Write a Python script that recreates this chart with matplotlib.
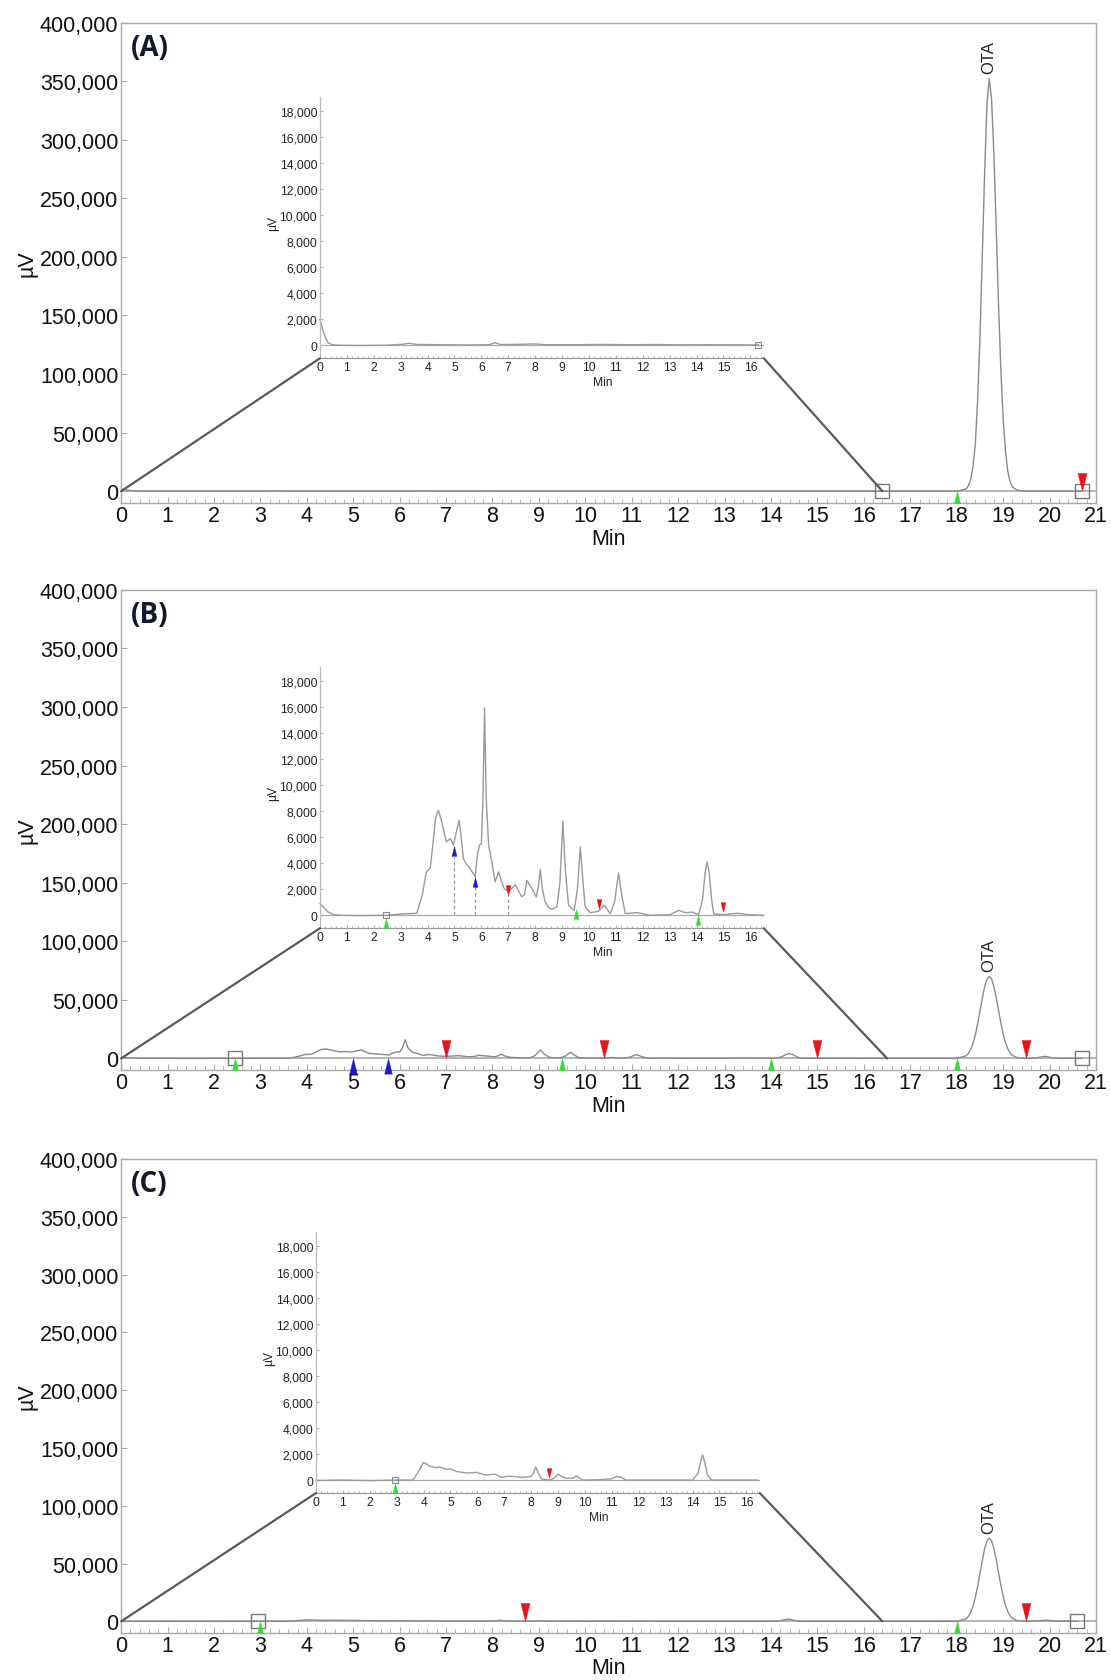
import matplotlib
matplotlib.use('Agg')
import matplotlib.pyplot as plt
from matplotlib.path import Path
from matplotlib.patches import ConnectionPatch
from matplotlib.transforms import offset_copy, blended_transform_factory
from matplotlib.ticker import FuncFormatter, MultipleLocator

plt.rcParams['font.family'] = ['Liberation Sans', 'DejaVu Sans']

# ---------------- data ----------------
panel_labels = ['(A)', '(B)', '(C)']
main_xticks = list(range(0, 22))
main_yticks = [0, 50000, 100000, 150000, 200000, 250000, 300000, 350000, 400000]
inset_xticks = list(range(0, 17))
inset_yticks = [0, 2000, 4000, 6000, 8000, 10000, 12000, 14000, 16000, 18000]

# early part of each chromatogram (0 - 16.5 min), shown in the insets
a_t = [0, 0.05, 0.1, 0.2, 0.3, 0.45, 0.7, 1.5, 2.5, 3.1, 3.3, 3.6, 4.5, 5.5,
       6.3, 6.5, 6.7, 7.2, 8.0, 8.4, 9.5, 10.5, 11.5, 12.5, 13.5, 14.5, 15.5, 16.3]
a_uv = [2000, 1600, 1200, 600, 200, 40, 0, -20, 0, 80, 150, 60, 40, 20,
        40, 200, 60, 60, 100, 40, 40, 60, 40, 50, 30, 40, 30, 20]

b_t = [0, 0.15, 0.3, 0.5, 0.7, 1.5, 2.5, 3.0, 3.6, 3.8, 3.95, 4.1, 4.2, 4.3, 4.4,
       4.5, 4.7, 4.85, 4.96, 5.08, 5.17, 5.25, 5.33, 5.45, 5.58, 5.77, 5.85, 5.93,
       6.0, 6.06, 6.12, 6.18, 6.27, 6.39, 6.51, 6.64, 6.75, 6.85, 7.0, 7.15, 7.26,
       7.4, 7.5, 7.6, 7.7, 7.8, 7.88, 8.04, 8.12, 8.19, 8.27, 8.37, 8.5, 8.62, 8.81,
       8.92, 9.03, 9.12, 9.24, 9.45, 9.57, 9.68, 9.78, 9.86, 10.05, 10.36, 10.57,
       10.79, 10.95, 11.1, 11.22, 11.35, 11.79, 12.28, 13.0, 13.34, 13.5, 13.65,
       13.83, 14.08, 14.22, 14.32, 14.39, 14.47, 14.56, 14.64, 15.0, 15.5, 16.0, 16.5]
b_uv = [900, 600, 250, 50, 0, -30, 0, 100, 150, 1500, 3300, 3640, 5500, 7500, 8080,
        7400, 5640, 5900, 5380, 6500, 7300, 6000, 4360, 3900, 3590, 2950, 4600, 5400,
        5500, 9000, 15950, 9000, 5380, 4100, 2560, 3330, 2600, 2050, 1800, 2100, 2360,
        1800, 1410, 1600, 2690, 2300, 2050, 1410, 2200, 3540, 2000, 1030, 600, 460, 640,
        2500, 7230, 3500, 770, 380, 2000, 5260, 2500, 640, 200, 300, 770,
        130, 1000, 3260, 1500, 130, 200, 0, 30, 380, 250, 200,
        250, 50, 1200, 3300, 4100, 3300, 1200, 100, 50, 150, 40, 0]

c_t = [0, 1, 2, 3, 3.6, 3.8, 3.99, 4.1, 4.24, 4.48, 4.6, 4.85, 5.0, 5.23, 5.6, 5.97,
       6.2, 6.34, 6.5, 6.65, 6.9, 7.1, 7.33, 7.64, 8.01, 8.1, 8.17, 8.25, 8.38, 8.69,
       8.85, 9.0, 9.15, 9.31, 9.55, 9.68, 9.8, 9.93, 10.55, 11.0, 11.17, 11.35, 11.54,
       12.4, 14.0, 14.2, 14.3, 14.37, 14.45, 14.55, 14.7, 15.5, 16.4]
c_uv = [-30, 0, -40, 0, 0, 600, 1350, 1250, 1050, 970, 1000, 840, 850, 660, 540, 590,
        450, 380, 420, 460, 200, 280, 280, 200, 280, 600, 1020, 600, 80, 0,
        150, 460, 250, 130, 150, 330, 150, 0, 30, 100, 280, 200, 0,
        0, 0, 500, 1400, 1940, 1400, 400, 0, 0, 0]

# OTA peak region (µV)
ota_t = [17.0, 18.0, 18.2, 18.25, 18.3, 18.35, 18.4, 18.45, 18.5, 18.55, 18.6, 18.65,
         18.7, 18.75, 18.8, 18.85, 18.9, 18.95, 19.0, 19.05, 19.1, 19.15, 19.2,
         19.3, 19.4, 19.5]
ota_a = [0, 0, 2000, 4500, 10000, 21000, 40000, 78000, 130000, 200000, 270000, 330000,
         352000, 335000, 288000, 225000, 160000, 104000, 62000, 34000, 17000, 8000, 3500,
         1000, 300, 0]
ota_b = [0, 0, 2200, 4200, 7600, 12800, 20000, 29400, 40200, 51000, 61000, 67600,
         70000, 67800, 61500, 52000, 41000, 30500, 21000, 13500, 8200, 4600, 2500,
         700, 150, 0]
ota_c = [0, 0, 2300, 4300, 7800, 13200, 20600, 30200, 41300, 52500, 62700, 69500,
         72000, 69700, 63200, 53500, 42200, 31400, 21600, 13900, 8400, 4700, 2600,
         700, 150, 0]

tail_a_t = [19.6, 20.0, 20.7]
tail_a_uv = [0, 0, 0]
tail_b_t = [19.6, 19.75, 19.9, 20.05, 20.2, 20.7]
tail_b_uv = [0, 700, 1800, 700, 0, 0]
tail_c_t = [19.6, 19.8, 19.95, 20.1, 20.6]
tail_c_uv = [0, 600, 1000, 400, 0]

ota_label = 'OTA'
ota_rt = 18.7
ota_heights = [352000, 70000, 72000]

# peak-processing marks on the main chromatograms (min)
main_red = [[20.7], [7.0, 10.4, 15.0, 19.5], [8.7, 19.5]]
main_green = [[18.0], [2.45, 9.5, 14.0, 18.0], [3.0, 18.0]]
main_blue = [[], [5.0, 5.75], []]
main_square = [[16.4, 20.7], [2.45, 20.7], [2.95, 20.6]]
zoom_end = [16.4, 16.5, 16.4]

# marks on the insets (min, µV at marker tip)
ins_red_t = [[], [7.0, 10.36, 15.0], [8.68]]
ins_red_uv = [[], [1600, 500, 250], [200]]
ins_green_t = [[], [2.45, 9.5, 14.07], [2.95]]
ins_green_uv = [[], [-250, 460, 0], [-200]]
ins_blue_t = [[], [4.98, 5.77], []]
ins_blue_uv = [[], [5300, 2950], []]
ins_dash_t = [[], [4.98, 5.77, 7.0], []]
ins_dash_top = [[], [4500, 2200, 1600], []]
ins_square_t = [[16.3], [2.45], [2.95]]

# ---------------- layout ----------------
W, H = 1111, 1681
fig = plt.figure(figsize=(W / 100, H / 100), dpi=100)

main_pos = [[0.109, 0.7002, 0.8775, 0.2858],
            [0.109, 0.3628, 0.8775, 0.2857],
            [0.109, 0.0280, 0.8775, 0.2820]]
inset_pos = [[0.288, 0.7863, 0.3995, 0.1555],
             [0.288, 0.4472, 0.3995, 0.1555],
             [0.2844, 0.1112, 0.3995, 0.1555]]

early_t = [a_t, b_t, c_t]
early_uv = [a_uv, b_uv, c_uv]
otas = [ota_a, ota_b, ota_c]
tails_t = [tail_a_t, tail_b_t, tail_c_t]
tails_uv = [tail_a_uv, tail_b_uv, tail_c_uv]

RED = '#e8141b'
GREEN = '#2fe02f'
BLUE = '#1c1cc8'
TRACE = '#8a8a8a'
SPINE = '#a8a8a8'


def tri(up=True):
    if up:
        v = [(0, 1), (0.5, -1), (-0.5, -1), (0, 1)]
    else:
        v = [(0, -1), (-0.5, 1), (0.5, 1), (0, -1)]
    return Path(v, [Path.MOVETO, Path.LINETO, Path.LINETO, Path.CLOSEPOLY])


def marks(ax, xs, ys, up, ms, color):
    if not xs:
        return
    dy = -ms / 2 if up else ms / 2
    tr = offset_copy(ax.transData, fig=fig, x=0, y=dy, units='points')
    ax.plot(xs, ys, linestyle='none', marker=tri(up), ms=ms, color=color,
            mec=color, mew=0.3, transform=tr, clip_on=False, zorder=6)


fmt = FuncFormatter(lambda v, p: f'{int(v):,}')

for i in range(3):
    ax = fig.add_axes(main_pos[i])
    ax.set_xlim(0, 21)
    ax.set_ylim(-10000, 400000)
    ax.set_xticks(main_xticks)
    ax.set_yticks(main_yticks)
    ax.yaxis.set_major_formatter(fmt)
    ax.xaxis.set_minor_locator(MultipleLocator(0.2))
    ax.tick_params(axis='both', which='major', labelsize=15.5, direction='in',
                   length=4, color=SPINE, labelcolor='#111')
    ax.tick_params(axis='x', which='major', pad=1.5)
    ax.tick_params(axis='y', which='major', pad=2)
    ax.tick_params(axis='x', which='minor', direction='in', length=3, color=SPINE)
    for s in ax.spines.values():
        s.set_color(SPINE)
        s.set_linewidth(1.0)

    t_full = early_t[i] + ota_t + tails_t[i]
    uv_full = early_uv[i] + otas[i] + tails_uv[i]
    ax.axhline(0, color='#b0b0b0', lw=1.3, zorder=1)
    ax.plot(t_full, uv_full, color=TRACE, lw=1.0, zorder=2)

    ax.annotate(ota_label, xy=(ota_rt, ota_heights[i]), xytext=(0, 4),
                textcoords='offset points', rotation=90, ha='center', va='bottom',
                fontsize=12, color='#222')

    ax.text(-0.0964, 0.5, 'µV', transform=ax.transAxes, rotation=90,
            ha='center', va='center', fontsize=15.5, color='#111')
    ax.text(10.5, -0.073, 'Min', transform=blended_transform_factory(ax.transData, ax.transAxes),
            ha='center', va='center', fontsize=15.5, color='#111')
    ax.text(0.0105, 0.948, panel_labels[i], transform=ax.transAxes, ha='left', va='center',
            fontsize=20, fontweight='bold', family=['Open Sans', 'DejaVu Sans'], color='#14182e')

    # markers
    marks(ax, main_red[i], [0] * len(main_red[i]), False, 13, RED)
    marks(ax, main_blue[i], [0] * len(main_blue[i]), True, 11, BLUE)
    marks(ax, main_green[i], [0] * len(main_green[i]), True, 8.5, GREEN)
    ax.plot(main_square[i], [0] * len(main_square[i]), linestyle='none', marker='s',
            ms=10, mfc='none', mec='#777', mew=1.0, zorder=5, clip_on=False)

    # inset
    ins = fig.add_axes(inset_pos[i])
    ins.set_facecolor('none')
    ins.set_xlim(0, 16.5)
    ins.set_ylim(-1000, 19100)
    ins.set_xticks(inset_xticks)
    ins.set_yticks(inset_yticks)
    ins.yaxis.set_major_formatter(fmt)
    ins.xaxis.set_minor_locator(MultipleLocator(0.2))
    ins.tick_params(axis='both', which='major', labelsize=8.7, direction='in',
                    length=2, color='#aaa', labelcolor='#222', pad=2)
    ins.tick_params(axis='x', which='minor', direction='in', length=1.5, color='#aaa')
    ins.spines['top'].set_visible(False)
    ins.spines['right'].set_visible(False)
    ins.spines['left'].set_color('#bbbbbb')
    ins.spines['bottom'].set_color('#999999')
    ins.spines['left'].set_linewidth(0.9)
    ins.spines['bottom'].set_linewidth(0.9)
    ins.axhline(0, color='#aaaaaa', lw=0.9, zorder=1)
    ins.plot(early_t[i], early_uv[i], color='#9a9a9a', lw=1.0, zorder=2, clip_on=False)
    ins.text(-0.106, 0.52, 'µV', transform=ins.transAxes, rotation=90,
             ha='center', va='center', fontsize=8.7, color='#222')
    ins.text(10.5, -0.09, 'Min', transform=blended_transform_factory(ins.transData, ins.transAxes),
             ha='center', va='center', fontsize=8.7, color='#222')

    for xd, top in zip(ins_dash_t[i], ins_dash_top[i]):
        ins.plot([xd, xd], [0, top], color='#999', lw=0.9, ls=(0, (3, 2)), zorder=3)
    marks(ins, ins_red_t[i], ins_red_uv[i], False, 7, RED)
    marks(ins, ins_green_t[i], ins_green_uv[i], True, 7, GREEN)
    marks(ins, ins_blue_t[i], ins_blue_uv[i], True, 7, BLUE)
    ins.plot(ins_square_t[i], [0] * len(ins_square_t[i]), linestyle='none', marker='s',
             ms=5, mfc='none', mec='#888', mew=0.8, zorder=5, clip_on=False)

    # zoom connector lines
    for xa, xb in [((0, 0), (0, 0)), ((zoom_end[i], 0), (1, 0))]:
        cp = ConnectionPatch(xyA=xa, coordsA=ax.transData, xyB=xb, coordsB=ins.transAxes,
                             color='#5a5a5a', lw=1.6, zorder=4)
        fig.add_artist(cp)

fig.savefig('out.png', dpi=100, facecolor='white')
